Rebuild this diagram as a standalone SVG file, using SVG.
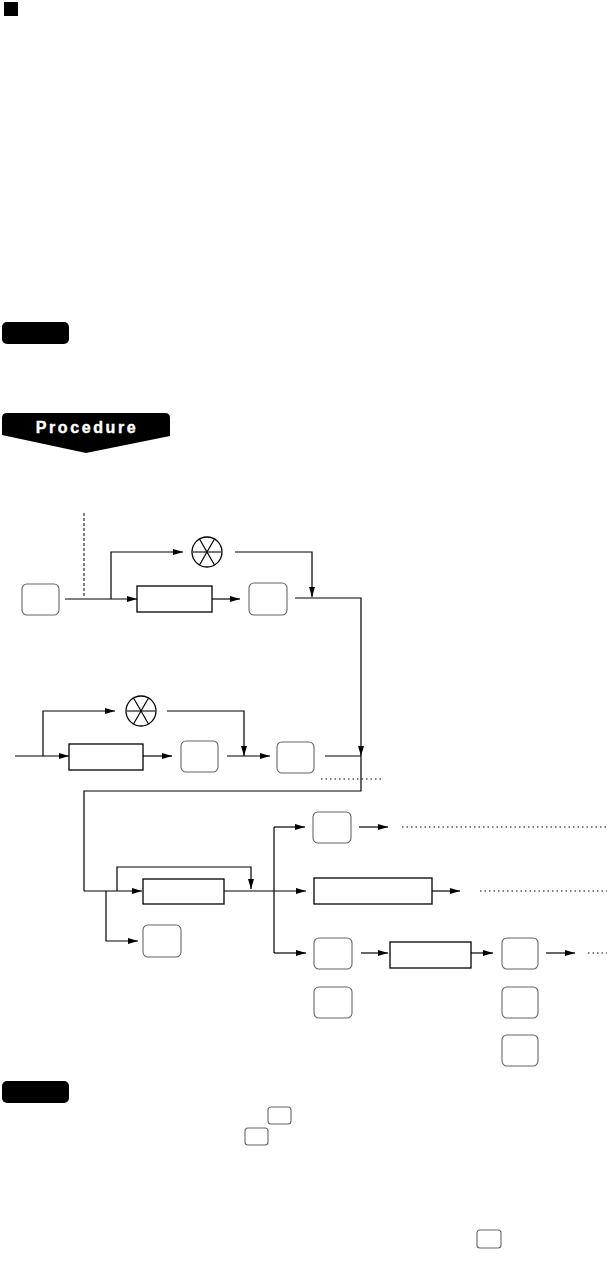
<svg xmlns="http://www.w3.org/2000/svg" width="607" height="1277" viewBox="0 0 607 1277">
<defs>
<marker id="ah" markerUnits="userSpaceOnUse" markerWidth="11" markerHeight="7" refX="10" refY="3" orient="auto">
<path d="M0,0 L10,3 L0,6 z" fill="#000"/>
</marker>
<style>
.ln{fill:none;stroke:#000;stroke-width:1.2}
.ar{fill:none;stroke:#000;stroke-width:1.2;marker-end:url(#ah)}
.dot{fill:none;stroke:#000;stroke-width:1;stroke-dasharray:1.5 3}
.dash{fill:none;stroke:#000;stroke-width:1;stroke-dasharray:3 2}
.key{fill:#fff;stroke:#666;stroke-width:1.1}
.box{fill:#fff;stroke:#000;stroke-width:1.3}
.cx{fill:#fff;stroke:#000;stroke-width:1.3}
.hz{fill:none;stroke:#555;stroke-width:1.6}
.badge{fill:#000}
.proc{font-family:"Liberation Sans",Arial,sans-serif;font-weight:bold;font-size:16px;fill:#fff;letter-spacing:2.6px}
</style>
</defs>
<rect id="bullet" x="4" y="2" width="14" height="14" fill="#000"/>
<g id="note1"><rect class="badge" x="2" y="322" width="67" height="22" rx="5"/></g>
<g id="procedure">
<path class="badge" d="M2,418 Q2,413 7,413 L165,413 Q170,413 170,418 L170,436 L86,453 L2,435 Z"/>
<text class="proc" x="87" y="433" text-anchor="middle" stroke="#fff" stroke-width="0.4">Procedure</text>
</g>
<g id="connectors">
<path class="dash" d="M84,513 V598"/>
<path class="ar" d="M65,599 H137"/>
<path class="ar" d="M111,599 V552 H183"/>
<path class="ar" d="M235,552 H312 V597"/>
<path class="ar" d="M212,599 H240"/>
<path class="ar" d="M295,598 H361 V756"/>
<path class="ln" d="M361,756 V791 H84 V891"/>
<path class="ar" d="M15,756 H69"/>
<path class="ar" d="M43,756 V711 H115"/>
<path class="ar" d="M167,711 H244 V756"/>
<path class="ar" d="M143,756 H172"/>
<path class="ar" d="M227,756 H270"/>
<path class="ln" d="M325,756 H361"/>
<path class="dot" d="M321,779 H383"/>
<path class="ar" d="M84,891 H142"/>
<path class="ar" d="M117,891 V867 H251 V889"/>
<path class="ar" d="M224,891 H306"/>
<path class="ln" d="M274,827 V953"/>
<path class="ar" d="M274,827 H305"/>
<path class="ar" d="M274,953 H306"/>
<path class="ar" d="M106,891 V941 H138"/>
<path class="ar" d="M359,827 H388"/>
<path class="dot" d="M402,827 H607"/>
<path class="ar" d="M432,891 H460"/>
<path class="dot" d="M480,891 H607"/>
<path class="ar" d="M361,953 H388"/>
<path class="ar" d="M471,953 H493"/>
<path class="ar" d="M546,953 H575"/>
<path class="dot" d="M588,953 H607"/>
</g>
<g id="key1"><rect class="key" x="22" y="584" width="37" height="31" rx="5"/></g>
<g id="x1"><circle class="cx" cx="207" cy="552" r="15"/><path class="hz" d="M192,552 H222"/><path class="ln" d="M199.5,539 L214.5,565 M214.5,539 L199.5,565"/></g>
<g id="box1"><rect class="box" x="137" y="586" width="75" height="26"/></g>
<g id="key2"><rect class="key" x="249" y="583" width="38" height="32" rx="5"/></g>
<g id="x2"><circle class="cx" cx="141" cy="711" r="15"/><path class="hz" d="M126,711 H156"/><path class="ln" d="M133.5,698 L148.5,724 M148.5,698 L133.5,724"/></g>
<g id="box2"><rect class="box" x="69" y="744" width="74" height="26"/></g>
<g id="key3"><rect class="key" x="181" y="741" width="37" height="31" rx="5"/></g>
<g id="key4"><rect class="key" x="277" y="742" width="37" height="31" rx="5"/></g>
<g id="box3"><rect class="box" x="143" y="879" width="81" height="25"/></g>
<g id="key7"><rect class="key" x="143" y="925" width="38" height="32" rx="5"/></g>
<g id="key5"><rect class="key" x="313" y="812" width="38" height="31" rx="5"/></g>
<g id="box4"><rect class="box" x="314" y="878" width="118" height="26"/></g>
<g id="key6"><rect class="key" x="314" y="938" width="38" height="31" rx="5"/></g>
<g id="box5"><rect class="box" x="390" y="942" width="81" height="26"/></g>
<g id="key8"><rect class="key" x="502" y="938" width="36" height="31" rx="5"/></g>
<g id="key9"><rect class="key" x="314" y="987" width="38" height="31" rx="5"/></g>
<g id="key10"><rect class="key" x="502" y="987" width="36" height="31" rx="5"/></g>
<g id="key11"><rect class="key" x="502" y="1035" width="36" height="31" rx="5"/></g>
<g id="note2"><rect class="badge" x="2" y="1081" width="67" height="22" rx="5"/></g>
<g id="skey1"><rect class="key" x="268" y="1107" width="23" height="17" rx="3"/></g>
<g id="skey2"><rect class="key" x="245" y="1128" width="23" height="17" rx="3"/></g>
<g id="skey3"><rect class="key" x="477" y="1230" width="24" height="18" rx="3"/></g>
</svg>
